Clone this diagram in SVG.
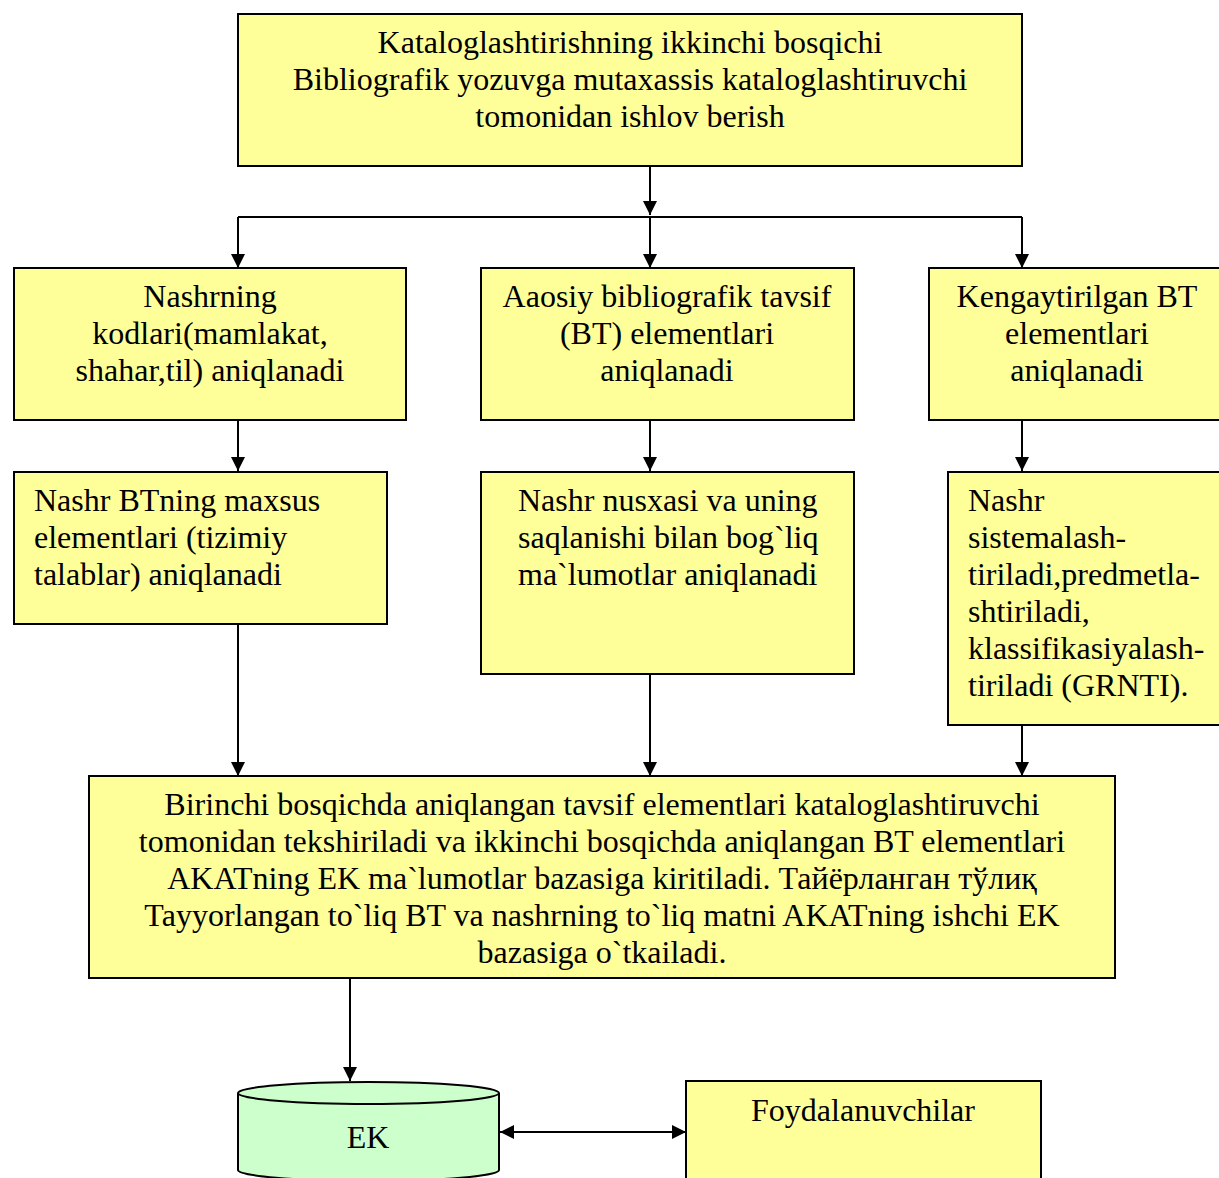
<svg xmlns="http://www.w3.org/2000/svg" width="1219" height="1178" viewBox="0 0 1219 1178">
<style>
.box{fill:#FFFF99;stroke:#000;stroke-width:2}
.db{fill:#CCFFCC;stroke:#000;stroke-width:2}
.t{font-family:"Liberation Serif","Times New Roman",serif;font-size:32px;fill:#000}
.c{text-anchor:middle}
.ln{stroke:#000;stroke-width:2;fill:none}
</style>
<defs>
<marker id="ah" viewBox="0 0 10 10" refX="10" refY="5" markerWidth="14" markerHeight="14" markerUnits="userSpaceOnUse" orient="auto-start-reverse">
<path d="M0,0 L10,5 L0,10 z" fill="#000"/>
</marker>
</defs>
<rect width="1219" height="1178" fill="#fff"/>
<g id="connectors">
<line class="ln" x1="650" y1="166" x2="650" y2="215" marker-end="url(#ah)"/>
<line class="ln" x1="238" y1="217" x2="1022" y2="217"/>
<line class="ln" x1="238" y1="217" x2="238" y2="268" marker-end="url(#ah)"/>
<line class="ln" x1="650" y1="217" x2="650" y2="268" marker-end="url(#ah)"/>
<line class="ln" x1="1022" y1="217" x2="1022" y2="268" marker-end="url(#ah)"/>
<line class="ln" x1="238" y1="420" x2="238" y2="471" marker-end="url(#ah)"/>
<line class="ln" x1="650" y1="420" x2="650" y2="471" marker-end="url(#ah)"/>
<line class="ln" x1="1022" y1="420" x2="1022" y2="471" marker-end="url(#ah)"/>
<line class="ln" x1="238" y1="624" x2="238" y2="776" marker-end="url(#ah)"/>
<line class="ln" x1="650" y1="674" x2="650" y2="776" marker-end="url(#ah)"/>
<line class="ln" x1="1022" y1="725" x2="1022" y2="776" marker-end="url(#ah)"/>
<line class="ln" x1="350" y1="978" x2="350" y2="1081" marker-end="url(#ah)"/>
<line class="ln" x1="500" y1="1132" x2="686" y2="1132" marker-start="url(#ah)" marker-end="url(#ah)"/>
</g>
<g id="top">
<rect class="box" x="238" y="14" width="784" height="152"/>
<text class="t c" x="630" y="53">Kataloglashtirishning ikkinchi bosqichi</text>
<text class="t c" x="630" y="90">Bibliografik yozuvga mutaxassis kataloglashtiruvchi</text>
<text class="t c" x="630" y="127">tomonidan ishlov berish</text>
</g>
<g id="codes">
<rect class="box" x="14" y="268" width="392" height="152"/>
<text class="t c" x="210" y="307">Nashrning</text>
<text class="t c" x="210" y="344">kodlari(mamlakat,</text>
<text class="t c" x="210" y="381">shahar,til) aniqlanadi</text>
</g>
<g id="basic">
<rect class="box" x="481" y="268" width="373" height="152"/>
<text class="t c" x="667" y="307">Aaosiy bibliografik tavsif</text>
<text class="t c" x="667" y="344">(BT) elementlari</text>
<text class="t c" x="667" y="381">aniqlanadi</text>
</g>
<g id="extended">
<rect class="box" x="929" y="268" width="300" height="152"/>
<text class="t c" x="1077" y="307">Kengaytirilgan BT</text>
<text class="t c" x="1077" y="344">elementlari</text>
<text class="t c" x="1077" y="381">aniqlanadi</text>
</g>
<g id="special">
<rect class="box" x="14" y="472" width="373" height="152"/>
<text class="t" x="34" y="511">Nashr BTning maxsus</text>
<text class="t" x="34" y="548">elementlari (tizimiy</text>
<text class="t" x="34" y="585">talablar) aniqlanadi</text>
</g>
<g id="copy">
<rect class="box" x="481" y="472" width="373" height="202"/>
<text class="t" x="518" y="511">Nashr nusxasi va uning</text>
<text class="t" x="518" y="548">saqlanishi bilan bog`liq</text>
<text class="t" x="518" y="585">ma`lumotlar aniqlanadi</text>
</g>
<g id="systematize">
<rect class="box" x="948" y="472" width="281" height="253"/>
<text class="t" x="968" y="511">Nashr</text>
<text class="t" x="968" y="548">sistemalash-</text>
<text class="t" x="968" y="585">tiriladi,predmetla-</text>
<text class="t" x="968" y="622">shtiriladi,</text>
<text class="t" x="968" y="659">klassifikasiyalash-</text>
<text class="t" x="968" y="696">tiriladi (GRNTI).</text>
</g>
<g id="check">
<rect class="box" x="89" y="776" width="1026" height="202"/>
<text class="t c" x="602" y="815">Birinchi bosqichda aniqlangan tavsif elementlari kataloglashtiruvchi</text>
<text class="t c" x="602" y="852">tomonidan tekshiriladi va ikkinchi bosqichda aniqlangan BT elementlari</text>
<text class="t c" x="602" y="889">AKATning EK ma`lumotlar bazasiga kiritiladi. Тайёрланган тўлиқ</text>
<text class="t c" x="602" y="926">Tayyorlangan to`liq BT va nashrning to`liq matni AKATning ishchi EK</text>
<text class="t c" x="602" y="963">bazasiga o`tkailadi.</text>
</g>
<g id="ek">
<path class="db" d="M238,1093 L238,1170 A130.5,11 0 0 0 499,1170 L499,1093 A130.5,11 0 0 0 238,1093 Z"/>
<path class="ln" d="M238,1093 A130.5,11 0 0 0 499,1093"/>
<text class="t c" x="368" y="1148">EK</text>
</g>
<g id="users">
<rect class="box" x="686" y="1081" width="355" height="110"/>
<text class="t c" x="863" y="1121">Foydalanuvchilar</text>
</g>
</svg>
